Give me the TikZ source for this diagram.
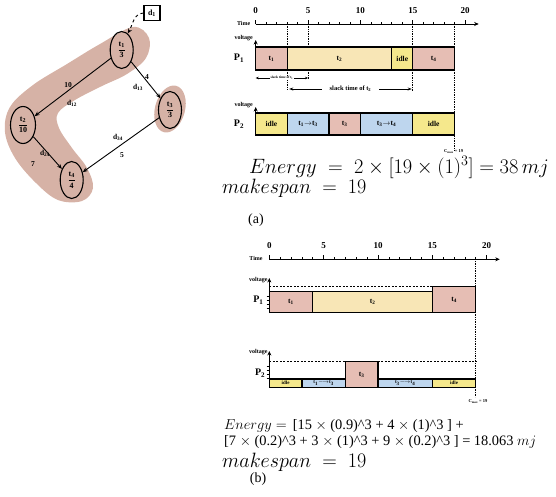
\documentclass[tikz,border=0pt]{standalone}
\usepackage{amsmath}
\usepackage{graphicx}
\usepackage{fontspec}
\setmainfont{Liberation Serif}
\usetikzlibrary{shapes.geometric,arrows.meta}
\definecolor{blobc}{RGB}{214,178,166}
\definecolor{pinkbox}{RGB}{230,190,180}
\definecolor{tanbox}{RGB}{248,230,182}
\definecolor{idlebox}{RGB}{245,232,140}
\definecolor{bluebox}{RGB}{190,214,238}
\newcommand\tbseg[7]{%
  \draw[bar,fill=#5] (#1,#3) rectangle (#2,#4);
  \node[boxlab] (#7) at ({(#1+#2)/2},{(#3+#4)/2}) {#6};}
\begin{document}
\begin{tikzpicture}[x=1pt,y=-1pt,
  tnode/.style={ellipse, draw, line width=1.1pt, minimum width=23pt, minimum height=37pt, inner sep=0pt, font=\bfseries\fontsize{8}{9}\selectfont},
  edge/.style={line width=0.9pt, -{Stealth[length=5pt,width=4pt]}},
  elab/.style={font=\bfseries\fontsize{7.5}{8}\selectfont, inner sep=0pt},
  bar/.style={draw, line width=1.2pt},
  boxlab/.style={font=\bfseries\fontsize{7.5}{8}\selectfont, inner sep=0pt},
  smallboxlab/.style={font=\bfseries\fontsize{5}{6}\selectfont, inner sep=0pt},
  lab/.style={font=\bfseries\fontsize{6}{7}\selectfont, inner sep=0pt},
  num/.style={font=\bfseries\fontsize{9}{10}\selectfont, inner sep=0pt},
  plab/.style={font=\bfseries\fontsize{10}{11}\selectfont, inner sep=0pt},
  axisline/.style={line width=0.9pt, -{Stealth[length=4.5pt,width=4pt]}},
  dotline/.style={densely dotted, line width=0.7pt},
  dashline/.style={dashed, dash pattern=on 2pt off 1.5pt, line width=0.7pt},
  bigmath/.style={font=\fontsize{20}{22}\selectfont, inner sep=0pt, anchor=base west},
  smallmath/.style={font=\fontsize{14.4}{16}\selectfont, inner sep=0pt, anchor=base west, text height=10pt, text depth=3pt},
  capt/.style={font=\fontsize{14}{16}\selectfont, inner sep=0pt, anchor=base, text height=7pt},
]
\useasboundingbox (0,0) rectangle (556,496);

% ---------- task graph ----------
\fill[blobc] plot[smooth cycle, tension=0.6] coordinates {
  (133,27) (100,44) (67,64) (33,85) (10,107) (5,132) (15,158) (36,183)
  (58,200) (82,201) (93,188) (87,168) (72,148) (59,128) (58,113)
  (75,100) (102,86) (127,74) (146,58) (149,38)};
\fill[blobc, rotate around={-15:(170,109)}] (170,109) ellipse [x radius=15, y radius=24];

\node[tnode] (t1) at (121.7,50) {$\dfrac{\mathbf{t_1}}{\mathbf{3}}$};
\node[tnode] (t3) at (170,110) {$\dfrac{\mathbf{t_3}}{\mathbf{3}}$};
\node[tnode, minimum width=25pt] (t2) at (23,125) {$\dfrac{\mathbf{t_2}}{\mathbf{10}}$};
\node[tnode] (t4) at (71.7,180) {$\dfrac{\mathbf{t_4}}{\mathbf{4}}$};
\node[draw, line width=1.1pt, minimum width=16pt, minimum height=15pt, inner sep=0pt, font=\bfseries\fontsize{8}{9}\selectfont] (d1) at (152,13) {d\textsubscript{1}};

\draw[dashed, line width=0.9pt, -{Stealth[length=5pt,width=4pt]}] (d1.west) to[out=185,in=60] (t1.70);
\draw[edge] (t1) -- (t2);
\draw[edge] (t1) -- (t3);
\draw[edge] (t3) -- (t4);
\draw[edge] (t2) -- (t4);

\node[elab] (w12) at (68,85) {10};
\node[elab] (l12) at (72,103) {d\textsubscript{12}};
\node[elab] (w13) at (147,77) {4};
\node[elab] (l13) at (138,87) {d\textsubscript{13}};
\node[elab] (l34) at (118,137) {d\textsubscript{34}};
\node[elab] (w34) at (122,155) {5};
\node[elab] (l24) at (45,153) {d\textsubscript{24}};
\node[elab] (w24) at (33,164) {7};

% ---------- schedule (a) ----------
\begin{scope}[shift={(255.7,0)}, x=10.47pt]
  \draw[axisline] (0,24) -- (21.3,24);
  \foreach \i in {0,...,20} \draw[line width=0.7pt] (\i,24) -- (\i,21.5);
  \foreach \i in {0,5,...,20} {
    \draw[line width=0.8pt] (\i,24) -- (\i,19.5);
    \node[num] (na\i) at (\i,11) {\i};}
  \node[lab, anchor=east] (timea) at (-0.5,23) {Time};
  % dotted guides
  \draw[dotline] (3,24) -- (3,90);
  \draw[dotline] (5,24) -- (5,80);
  \draw[dotline] (15,24) -- (15,91);
  \draw[dotline] (19,24) -- (19,150);
  % P1
  \draw[axisline] (0,70) -- (0,40);
  \node[lab, anchor=east] (va1) at (-0.25,38) {voltage};
  \node[plab] (pa1) at (-1.6,58) {P\textsubscript{1}};
  \tbseg{0}{3}{47}{70}{pinkbox}{t\textsubscript{1}}{a1t1}
  \tbseg{3}{13}{47}{70}{tanbox}{t\textsubscript{2}}{a1t2}
  \tbseg{13}{15}{47}{70}{idlebox}{idle}{a1idle}
  \tbseg{15}{19}{47}{70}{pinkbox}{t\textsubscript{4}}{a1t4}
  % slack arrows
  \draw[line width=0.5pt, {Stealth[length=3pt,width=2.5pt]}-{Stealth[length=3pt,width=2.5pt]}] (0,78) -- (5,78)
    node[midway, fill=white, inner sep=0.5pt, font=\bfseries\fontsize{3.5}{4}\selectfont] (sl1) {slack time of t\textsubscript{1}};
  \draw[line width=0.7pt, {Stealth[length=4pt,width=3pt]}-{Stealth[length=4pt,width=3pt]}] (3.2,89) -- (14.9,89)
    node[midway, fill=white, inner xsep=8pt, inner ysep=1pt, font=\bfseries\fontsize{6.5}{7}\selectfont] (sl2) {slack time of t\textsubscript{2}};
  % P2
  \draw[axisline] (0,135) -- (0,107);
  \node[lab, anchor=east] (va2) at (-0.25,105) {voltage};
  \node[plab] (pa2) at (-1.6,124) {P\textsubscript{2}};
  \tbseg{0}{3}{113}{135}{idlebox}{idle}{a2idle1}
  \tbseg{3}{7}{113}{135}{bluebox}{t\textsubscript{1}$\rightarrow$t\textsubscript{3}}{a2c13}
  \tbseg{7}{10}{113}{135}{pinkbox}{t\textsubscript{3}}{a2t3}
  \tbseg{10}{15}{113}{135}{bluebox}{t\textsubscript{3}$\rightarrow$t\textsubscript{4}}{a2c34}
  \tbseg{15}{19}{113}{135}{idlebox}{idle}{a2idle2}
  \node[font=\bfseries\fontsize{4.5}{5}\selectfont, inner sep=0pt] (cma) at (18.9,152) {C\textsubscript{max} = 19};
\end{scope}

\node[bigmath, text depth=0pt] (ena) at (249,173) {\scalebox{0.985}[1]{$Energy\;=\;2\times[19\times(1)^3]=38\,mj$}};
\node[bigmath, text height=12pt] (mka) at (222,193) {\scalebox{0.97}[1]{$makespan\;=\;19$}};
\node[capt] (capa) at (256,223.5) {(a)};

% ---------- schedule (b) ----------
\begin{scope}[shift={(269.3,0)}, x=10.87pt]
  \draw[axisline] (0,259.3) -- (21.2,259.3);
  \foreach \i in {0,...,20} \draw[line width=0.7pt] (\i,259.3) -- (\i,256.8);
  \foreach \i in {0,5,...,20} {
    \draw[line width=0.8pt] (\i,259.3) -- (\i,254.8);
    \node[num] (nb\i) at (\i,245.5) {\i};}
  \node[lab, anchor=east] (timeb) at (-0.6,258.5) {Time};
  \draw[dotline] (19,259.3) -- (19,397);
  % P1
  \draw[axisline] (0,313) -- (0,278);
  \node[lab, anchor=east] (vb1) at (-0.15,280) {voltage};
  \node[plab] (pb1) at (-1.0,300) {P\textsubscript{1}};
  \draw[dashline] (0,286.5) -- (15,286.5);
  \tbseg{0}{4}{291.7}{312.7}{pinkbox}{t\textsubscript{1}}{b1t1}
  \tbseg{4}{15}{291.7}{312.7}{tanbox}{t\textsubscript{2}}{b1t2}
  \tbseg{15}{19}{286.5}{312.7}{pinkbox}{t\textsubscript{4}}{b1t4}
  \foreach \yy in {296,300,304,308} \draw[line width=0.4pt] (-0.25,\yy) -- (0,\yy);
  % P2
  \draw[axisline] (0,387.3) -- (0,351);
  \node[lab, anchor=east] (vb2) at (-0.15,352) {voltage};
  \node[plab] (pb2) at (-0.85,373) {P\textsubscript{2}};
  \draw[dashline] (0,361.7) -- (19,361.7);
  \foreach \yy in {366,370,374,378} \draw[line width=0.4pt] (-0.25,\yy) -- (0,\yy);
  \draw[bar,fill=idlebox] (0,379) rectangle (3,387.3);
  \node[smallboxlab] (b2idle1) at (1.5,383.2) {idle};
  \draw[bar,fill=bluebox] (3,379) rectangle (7,387.3);
  \node[smallboxlab] (b2c13) at (5,383.2) {t\textsubscript{1}$\longrightarrow$t\textsubscript{3}};
  \tbseg{7}{10}{361.7}{387.3}{pinkbox}{t\textsubscript{3}}{b2t3}
  \draw[bar,fill=bluebox] (10,379) rectangle (15,387.3);
  \node[smallboxlab] (b2c34) at (12.5,383.2) {t\textsubscript{3}$\longrightarrow$t\textsubscript{4}};
  \draw[bar,fill=idlebox] (15,379) rectangle (19,387.3);
  \node[smallboxlab] (b2idle2) at (17,383.2) {idle};
  \node[font=\bfseries\fontsize{4.5}{5}\selectfont, inner sep=0pt] (cmb) at (19.2,402) {C\textsubscript{max} = 19};
\end{scope}

\node[smallmath] (enb1) at (224,429)
  {$Energy=$ \,[15 $\times$ (0.9)\textasciicircum3 + 4 $\times$ (1)\textasciicircum3 ] +};
\node[smallmath] (enb2) at (224,445)
  {[7 $\times$ (0.2)\textasciicircum3 + 3 $\times$ (1)\textasciicircum3 + 9 $\times$ (0.2)\textasciicircum3 ] = 18.063 $mj$};
\node[bigmath, text depth=0pt, text height=12pt] (mkb) at (222,467) {\scalebox{0.97}[1]{$makespan\;=\;19$}};
\node[capt] (capb) at (258,482) {(b)};
\end{tikzpicture}
\end{document}
